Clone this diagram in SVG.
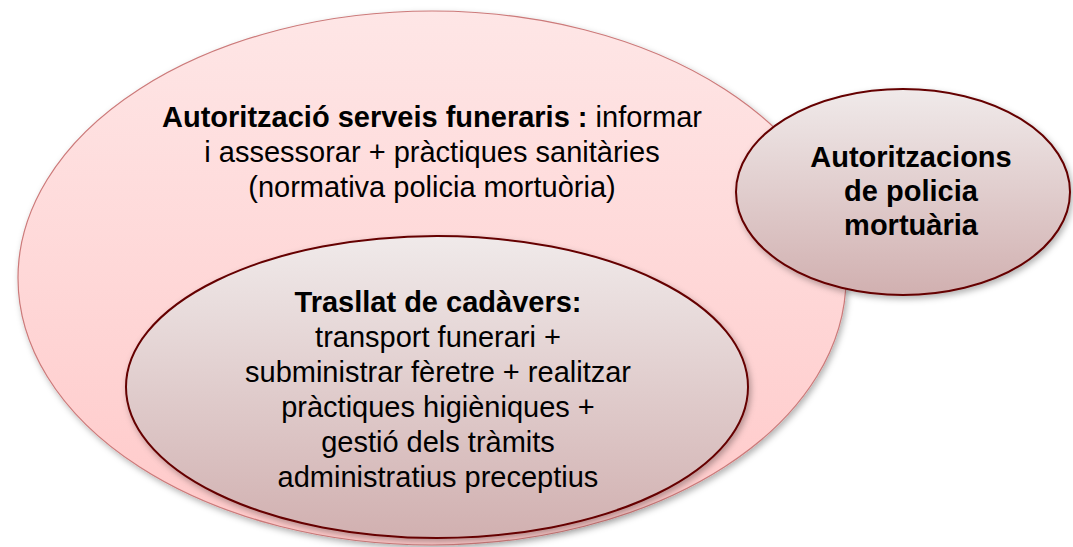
<svg xmlns="http://www.w3.org/2000/svg" width="1073" height="547" viewBox="0 0 1073 547">
  <defs>
    <linearGradient id="gPink" x1="0" y1="0" x2="0" y2="1">
      <stop offset="0" stop-color="#FEE6E6"/>
      <stop offset="1" stop-color="#FFC9C9"/>
    </linearGradient>
    <linearGradient id="gMauve" x1="0" y1="0" x2="0" y2="1">
      <stop offset="0" stop-color="#F0EAEA"/>
      <stop offset="1" stop-color="#D1B0B0"/>
    </linearGradient>
    <filter id="shadow" x="-10%" y="-10%" width="120%" height="125%">
      <feDropShadow dx="2" dy="3" stdDeviation="3" flood-color="#000" flood-opacity="0.3"/>
    </filter>
  </defs>
  <style>
    .outer { fill: url(#gPink); stroke: #CC7A7A; stroke-width: 1.2; filter: url(#shadow); }
    .inner { fill: url(#gMauve); stroke: #650000; stroke-width: 2; filter: url(#shadow); }
    text { font-family: "Liberation Sans", Arial, sans-serif; font-size: 29px; fill: #000; text-anchor: middle; }
    .b { font-weight: bold; }
  </style>
  <rect width="1073" height="547" fill="#FFFFFF"/>
  <g id="node-serveis-funeraris">
    <ellipse class="outer" cx="432" cy="278" rx="414" ry="267"/>
    <text x="432" y="127"><tspan class="b">Autorització serveis funeraris :</tspan> informar</text>
    <text x="432" y="162">i assessorar + pràctiques sanitàries</text>
    <text x="432" y="197">(normativa policia mortuòria)</text>
  </g>
  <g id="node-policia-mortuaria">
    <ellipse class="inner" cx="903" cy="192" rx="167" ry="103"/>
    <text class="b" x="911" y="167">Autoritzacions</text>
    <text class="b" x="911" y="201">de policia</text>
    <text class="b" x="911" y="235">mortuària</text>
  </g>
  <g id="node-trasllat">
    <ellipse class="inner" cx="437" cy="387" rx="311" ry="151"/>
    <text class="b" x="438" y="312">Trasllat de cadàvers:</text>
    <text x="438" y="347">transport funerari +</text>
    <text x="438" y="382">subministrar fèretre + realitzar</text>
    <text x="438" y="417">pràctiques higièniques +</text>
    <text x="438" y="452">gestió dels tràmits</text>
    <text x="438" y="487">administratius preceptius</text>
  </g>
  <g id="connectors"/>
</svg>
